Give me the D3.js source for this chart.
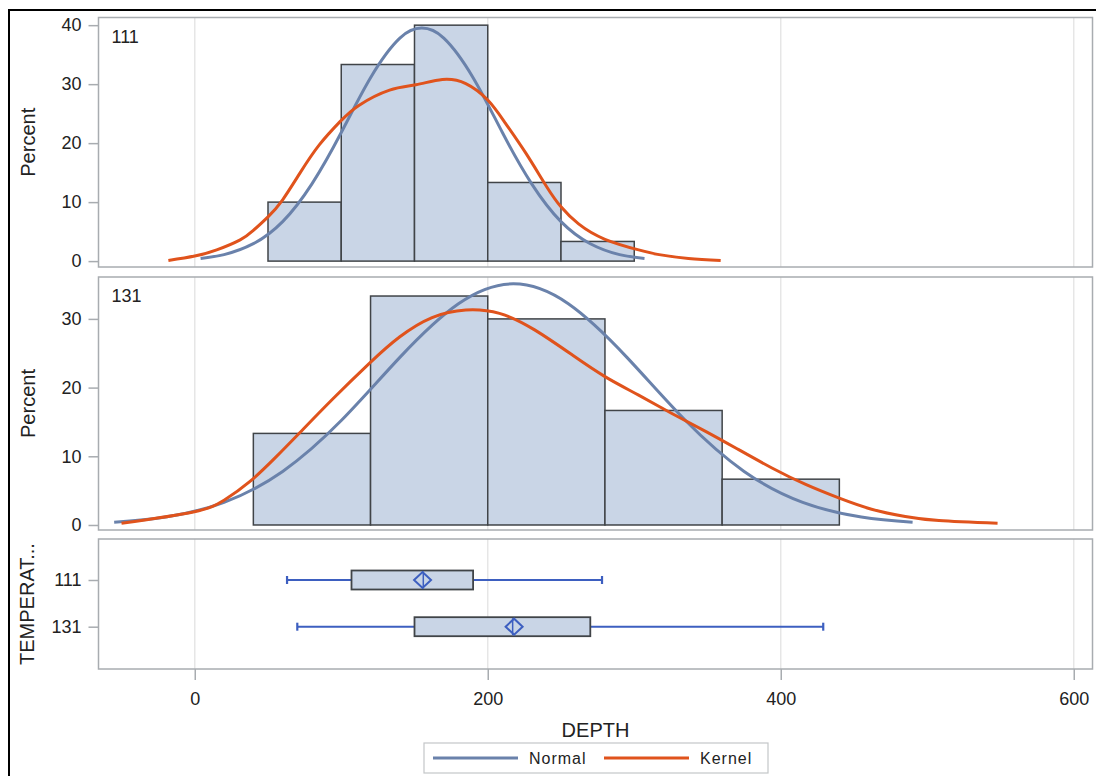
<!DOCTYPE html>
<html>
<head>
<meta charset="utf-8">
<script src="https://cdnjs.cloudflare.com/ajax/libs/d3/7.8.5/d3.min.js"></script>
<style>
  body { margin: 0; background: #fff; }
  svg { font-family: "Liberation Sans", Arial, sans-serif; }
  .axis text { fill: #222; font-size: 18px; }
  .axis line { stroke: #a8acb0; stroke-width: 1.5; }
  .axis path { display: none; }
</style>
</head>
<body>
<svg id="main-svg" width="1096" height="776"></svg>
<script>
// histogram bins (DEPTH) and percent per group
let edges111 = [50, 100, 150, 200, 250, 300];
let pct111 = [10, 33.33, 40, 13.33, 3.33];
let edges131 = [40, 120, 200, 280, 360, 440];
let pct131 = [13.33, 33.33, 30, 16.67, 6.67];

// fitted curves: [depth, percent]
let normal111 = [[4, 0.45], [20, 1.1], [40, 2.95], [60, 6.7], [80, 13.1], [100, 21.8], [120, 31.1], [140, 37.8], [155, 39.5],
    [170, 37.8], [190, 31.1], [210, 21.8], [230, 13.1], [250, 6.7], [270, 2.95], [290, 1.1], [307, 0.45]];
let kernel111 = [[-18, 0.1], [0, 0.85], [15, 1.9], [31, 3.6], [40, 5.2], [50, 7.5], [60, 10.4], [72, 15.0], [85, 19.7],
    [99, 23.6], [112, 26.4], [133, 29], [151, 29.9], [169, 30.8], [185, 30.1], [200, 27.3], [212, 23.4], [226, 18.3],
    [240, 12.7], [250, 9.2], [262, 6.3], [280, 3.7], [303, 1.9], [317, 1.1], [337, 0.45], [359, 0.1]];
let normal131 = [[-55, 0.39], [-20, 1.15], [20, 3.3], [60, 7.8], [100, 15.2], [140, 24.4], [180, 32.2], [217.5, 35.1],
    [255, 32.2], [295, 24.4], [335, 15.2], [375, 7.8], [415, 3.3], [455, 1.15], [490, 0.39]];
let kernel131 = [[-50, 0.25], [-1, 1.9], [20, 3.6], [37.5, 6.3], [55, 9.8], [72, 13.5], [94, 18.3], [119, 23.5],
    [140, 27.4], [162, 30.2], [185, 31.3], [208, 30.8], [232, 28.4], [258, 24.7], [280, 21.6], [303, 18.9], [326, 16.2],
    [349, 13.6], [371, 11.0], [394, 8.3], [417, 5.9], [440, 3.9], [462, 2.3], [485, 1.25], [508, 0.65], [548, 0.25]];

// box plot summary by TEMPERATURE
let groups = ["111", "131"];
let boxMin = [63, 70];
let boxQ1 = [107, 150];
let boxMedian = [156, 217];
let boxQ3 = [190, 270];
let boxMax = [278, 429];
let boxMean = [155.5, 218];

let xTicks = [0, 200, 400, 600];

let fillColor = "#c9d5e6";
let barStroke = "#404448";
let normalColor = "#6a82ab";
let kernelColor = "#e0531c";
let whiskerColor = "#3d5fc0";
let frameColor = "#a8acb0";
let gridColor = "#e6e6e6";

let svg = d3.select("#main-svg");

// outer frame
svg.append("rect")
    .attr("x", 9).attr("y", 10)
    .attr("width", 1100).attr("height", 800)
    .attr("fill", "none")
    .attr("stroke", "#000")
    .attr("stroke-width", 2);

let left = 98.5, right = 1092.5;
let x = d3.scaleLinear().domain([-65.7, 612.8]).range([left, right]);

let panels = [
    { label: "111", top: 17.5, bottom: 267, ymax: 41.3, ymin: -1.0, ticks: [0, 10, 20, 30, 40], edges: edges111, pct: pct111, normal: normal111, kernel: kernel111 },
    { label: "131", top: 277, bottom: 530, ymax: 36.1, ymin: -0.73, ticks: [0, 10, 20, 30], edges: edges131, pct: pct131, normal: normal131, kernel: kernel131 }
];

function drawGrid(g, top, bottom) {
    g.selectAll(".grid")
        .data(xTicks)
        .enter().append("line")
        .attr("x1", d => x(d)).attr("x2", d => x(d))
        .attr("y1", top).attr("y2", bottom)
        .attr("stroke", gridColor)
        .attr("stroke-width", 1.5);
}

function drawFrame(g, top, bottom) {
    g.append("rect")
        .attr("x", left).attr("y", top)
        .attr("width", right - left).attr("height", bottom - top)
        .attr("fill", "none")
        .attr("stroke", frameColor)
        .attr("stroke-width", 1.5);
}

panels.forEach(function (p) {
    let g = svg.append("g");
    let y = d3.scaleLinear().domain([p.ymin, p.ymax]).range([p.bottom, p.top]);

    drawGrid(g, p.top, p.bottom);

    let bins = p.pct.map((v, i) => ({ x0: p.edges[i], x1: p.edges[i + 1], v: v }));
    g.selectAll(".bar")
        .data(bins)
        .enter().append("rect")
        .attr("x", d => x(d.x0))
        .attr("width", d => x(d.x1) - x(d.x0))
        .attr("y", d => y(d.v))
        .attr("height", d => y(0) - y(d.v))
        .attr("fill", fillColor)
        .attr("stroke", barStroke)
        .attr("stroke-width", 1.5);

    let line = d3.line()
        .curve(d3.curveNatural)
        .x(d => x(d[0]))
        .y(d => y(d[1]));

    g.append("path").datum(p.normal)
        .attr("d", line)
        .attr("fill", "none")
        .attr("stroke", normalColor)
        .attr("stroke-width", 3);

    g.append("path").datum(p.kernel)
        .attr("d", line)
        .attr("fill", "none")
        .attr("stroke", kernelColor)
        .attr("stroke-width", 3);

    drawFrame(g, p.top, p.bottom);

    g.append("g")
        .attr("class", "axis")
        .attr("transform", "translate(" + left + ",0)")
        .call(d3.axisLeft(y).tickValues(p.ticks).tickSize(10).tickSizeOuter(0).tickPadding(7))
        .selectAll("text").style("font-family", "inherit");

    g.append("text")
        .attr("x", 111.5).attr("y", p.top + 25)
        .attr("fill", "#222")
        .style("font-size", "18px")
        .text(p.label);

    g.append("text")
        .attr("transform", "translate(34.5," + ((p.top + p.bottom) / 2) + ") rotate(-90)")
        .attr("text-anchor", "middle")
        .attr("fill", "#222")
        .style("font-size", "20px")
        .text("Percent");
});

// box plot panel
let boxTop = 539, boxBottom = 669;
let yBox = d3.scalePoint().domain(groups).range([580, 626.7]);
let gb = svg.append("g");
drawGrid(gb, boxTop, boxBottom);

let boxes = groups.map((k, i) => ({ k: k, min: boxMin[i], q1: boxQ1[i], med: boxMedian[i], q3: boxQ3[i], max: boxMax[i], mean: boxMean[i] }));
let bh = 9.5;

boxes.forEach(function (b) {
    let cy = yBox(b.k);
    [[b.min, b.q1], [b.q3, b.max]].forEach(function (s) {
        gb.append("line")
            .attr("x1", x(s[0])).attr("x2", x(s[1]))
            .attr("y1", cy).attr("y2", cy)
            .attr("stroke", whiskerColor).attr("stroke-width", 2);
    });
    [b.min, b.max].forEach(function (v) {
        gb.append("line")
            .attr("x1", x(v)).attr("x2", x(v))
            .attr("y1", cy - 4).attr("y2", cy + 4)
            .attr("stroke", whiskerColor).attr("stroke-width", 2.2);
    });
    gb.append("rect")
        .attr("x", x(b.q1)).attr("y", cy - bh)
        .attr("width", x(b.q3) - x(b.q1)).attr("height", 2 * bh)
        .attr("fill", fillColor)
        .attr("stroke", barStroke)
        .attr("stroke-width", 1.8);
    gb.append("line")
        .attr("x1", x(b.med)).attr("x2", x(b.med))
        .attr("y1", cy - bh + 1).attr("y2", cy + bh - 1)
        .attr("stroke", whiskerColor).attr("stroke-width", 1.5);
    let mx = x(b.mean);
    gb.append("path")
        .attr("d", "M" + (mx - 8.5) + "," + cy + "L" + mx + "," + (cy - 8) + "L" + (mx + 8.5) + "," + cy + "L" + mx + "," + (cy + 8) + "Z")
        .attr("fill", "none")
        .attr("stroke", whiskerColor)
        .attr("stroke-width", 2);
});

drawFrame(gb, boxTop, boxBottom);

gb.append("g")
    .attr("class", "axis")
    .attr("transform", "translate(" + left + ",0)")
    .call(d3.axisLeft(yBox).tickSize(10).tickSizeOuter(0).tickPadding(7));

gb.append("text")
    .attr("transform", "translate(33.5," + ((boxTop + boxBottom) / 2) + ") rotate(-90)")
    .attr("text-anchor", "middle")
    .attr("fill", "#222")
    .style("font-size", "20px")
    .text("TEMPERAT...");

svg.append("g")
    .attr("class", "axis")
    .attr("transform", "translate(0," + boxBottom + ")")
    .call(d3.axisBottom(x).tickValues(xTicks).tickSize(11).tickSizeOuter(0).tickPadding(12));

svg.append("text")
    .attr("x", (left + right) / 2).attr("y", 737)
    .attr("text-anchor", "middle")
    .attr("fill", "#222")
    .style("font-size", "20px")
    .text("DEPTH");

// legend
let legend = svg.append("g");
legend.append("rect")
    .attr("x", 424).attr("y", 743)
    .attr("width", 344).attr("height", 30)
    .attr("fill", "#fff")
    .attr("stroke", "#c4c6c8")
    .attr("stroke-width", 1.2);

let legendItems = [
    { name: "Normal", color: normalColor, x: 433 },
    { name: "Kernel", color: kernelColor, x: 604 }
];
legendItems.forEach(function (d) {
    legend.append("line")
        .attr("x1", d.x).attr("x2", d.x + 85)
        .attr("y1", 758).attr("y2", 758)
        .attr("stroke", d.color)
        .attr("stroke-width", 3);
    legend.append("text")
        .attr("x", d.x + 96).attr("y", 764)
        .attr("fill", "#222")
        .style("font-size", "16px")
        .style("letter-spacing", "1px")
        .text(d.name);
});
</script>
</body>
</html>
